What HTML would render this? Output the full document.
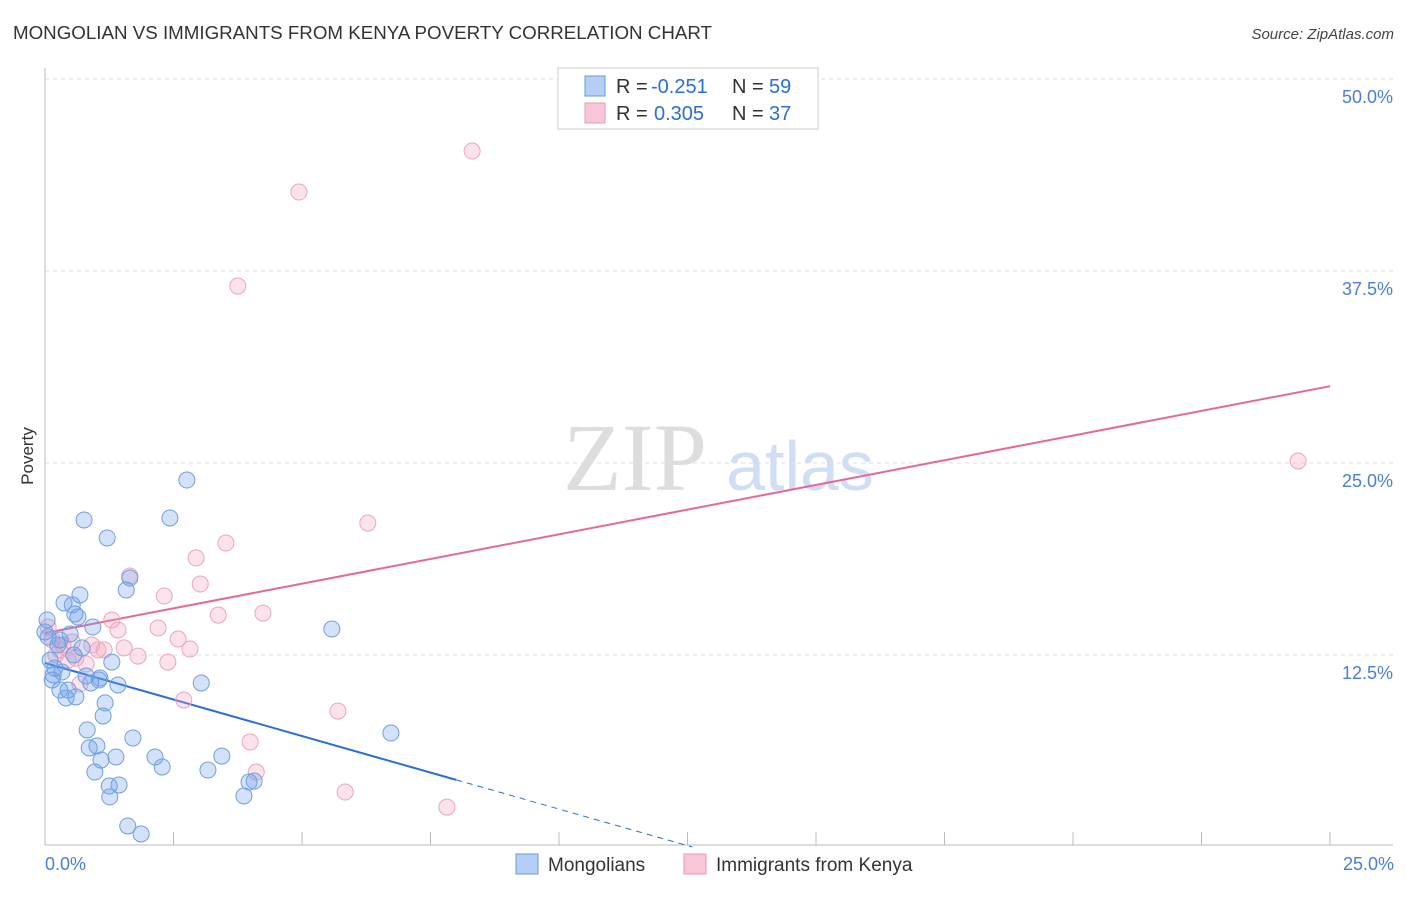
<!DOCTYPE html>
<html><head><meta charset="utf-8"><style>
body{margin:0;background:#fff;font-family:"Liberation Sans",sans-serif;}
</style></head><body>
<svg id="chart" width="1406" height="892" xmlns="http://www.w3.org/2000/svg" style="font-family:'Liberation Sans',sans-serif">
<text x="13" y="39" font-size="18" fill="#333" textLength="699" lengthAdjust="spacingAndGlyphs">MONGOLIAN VS IMMIGRANTS FROM KENYA POVERTY CORRELATION CHART</text>
<text x="1394" y="39" font-size="15" fill="#444" text-anchor="end" font-style="italic">Source: ZipAtlas.com</text>
<g>
<text x="635" y="490" font-size="96" fill="#ddd" text-anchor="middle" font-family="Liberation Serif,serif">ZIP</text>
<text x="800" y="490" font-size="70" fill="#d0def5" text-anchor="middle">atlas</text>
</g>
<g id="grid"></g>
<g id="axes"></g>
<g id="lines"></g>
<g id="pts"></g>
<text transform="translate(33,456) rotate(-90)" font-size="17" fill="#333" text-anchor="middle">Poverty</text>
<text x="45" y="870" font-size="18" fill="#4a7fd4">0.0%</text>
<text x="1394" y="870" font-size="18" fill="#4a7fd4" text-anchor="end">25.0%</text>
<g font-size="20">
<rect x="558" y="68" width="260" height="61" fill="#fff" stroke="#ccc"/>
<rect x="585" y="76" width="20" height="20" fill="#b5cef5" stroke="#6699dd"/>
<rect x="585" y="103" width="20" height="20" fill="#f8c6d6" stroke="#e899b5"/>
<text x="616" y="93" fill="#333">R =</text>
<text x="651" y="93" fill="#2a6fd6">-0.251</text>
<text x="732" y="93" fill="#333">N =</text>
<text x="769" y="93" fill="#2a6fd6">59</text>
<text x="616" y="120" fill="#333">R =</text>
<text x="654" y="120" fill="#2a6fd6">0.305</text>
<text x="732" y="120" fill="#333">N =</text>
<text x="769" y="120" fill="#2a6fd6">37</text>
</g>
<g>
<rect x="516" y="854" width="22" height="20" fill="#b5cef5" stroke="#6699dd"/>
<text x="548" y="871" font-size="19" fill="#333">Mongolians</text>
<rect x="684" y="854" width="22" height="20" fill="#f8c6d6" stroke="#e899b5"/>
<text x="716" y="871" font-size="19" fill="#333">Immigrants from Kenya</text>
</g>
</svg>
<script>
const yTicks=[12.5,25,37.5,50];
const yTickLabels=["12.5%","25.0%","37.5%","50.0%"];
const xTicks=[0,2.5,5,7.5,10,12.5,15,17.5,20,22.5,25];
const blueX=[0.04,0.06,0.10,0.16,0.19,0.25,0.29,0.33,0.37,0.41,0.45,0.49,0.53,0.56,0.60,0.64,0.68,0.72,0.76,0.80,0.82,0.86,0.89,0.93,0.97,1.01,1.05,1.09,1.13,1.17,1.21,1.25,1.26,1.30,1.38,1.42,1.44,1.58,1.61,1.65,1.71,1.87,2.14,2.28,2.43,2.76,3.04,3.17,3.44,3.87,3.97,4.07,5.58,6.73,1.07,0.29,0.14,0.0,0.58];
const blueY=[14.78,13.67,12.17,11.20,11.65,13.15,10.22,11.39,15.89,9.70,10.22,13.87,15.76,12.50,9.77,14.97,16.41,12.96,21.29,11.13,7.62,6.45,10.68,14.32,4.88,6.58,10.87,5.66,8.53,9.38,20.12,3.97,3.26,12.04,5.86,10.55,4.04,16.73,1.37,17.51,7.10,0.85,5.86,5.21,21.42,23.89,10.68,5.01,5.92,3.32,4.23,4.30,14.19,7.42,11.00,13.48,10.87,14.00,15.17];
const pinkX=[0.06,0.14,0.21,0.29,0.35,0.45,0.53,0.60,0.68,0.80,0.91,1.03,1.15,1.30,1.42,1.54,1.65,1.81,2.20,2.32,2.39,2.59,2.70,2.82,2.94,3.02,3.37,3.52,3.75,3.99,4.11,4.24,4.94,5.70,5.84,6.28,7.82,8.31,24.38];
const pinkY=[14.32,13.48,12.50,12.83,13.15,12.17,13.35,12.30,10.61,11.91,13.15,12.83,12.83,14.78,14.13,12.96,17.64,12.43,14.26,16.34,12.04,13.54,9.57,12.89,18.82,17.12,15.10,19.79,36.52,6.84,4.88,15.23,42.64,8.85,3.58,21.09,2.60,45.31,25.13];
const blueTrend=[11.98,-11.8];
const blueSolidEnd=8.0;
const pinkTrend=[13.93,30.0];
const NS="http://www.w3.org/2000/svg";
const X=v=>45+v*51.4, Y=v=>847-v*15.36;
function mk(tag,attrs,parent){const e=document.createElementNS(NS,tag);for(const k in attrs)e.setAttribute(k,attrs[k]);document.getElementById(parent).appendChild(e);return e;}
yTicks.forEach((t,i)=>{
 const l=mk('line',{x1:45,x2:1393,y1:Y(t),y2:Y(t),stroke:'#ddd','stroke-dasharray':'4,4'},'grid');
 
 
 const tx=mk('text',{x:1393,y:Y(t)+24,'font-size':18,fill:'#4a7fd4','text-anchor':'end'},'grid');
 tx.textContent=yTickLabels[i];
 
 
});
let a=mk('line',{x1:45,x2:45,y1:68,y2:845,stroke:'#bbb'},'axes');


a=mk('line',{x1:45,x2:1393,y1:845,y2:845,stroke:'#bbb'},'axes');


xTicks.forEach(t=>{const l=mk('line',{x1:X(t),x2:X(t),y1:832,y2:845,stroke:'#bbb'},'axes');
 
 });
function ty(tr,x){return tr[0]+(tr[1]-tr[0])*x/25;}
const xz=blueTrend[0]/(blueTrend[0]-blueTrend[1])*25;
let l=mk('line',{x1:X(0),y1:Y(ty(blueTrend,0)),x2:X(blueSolidEnd),y2:Y(ty(blueTrend,blueSolidEnd)),stroke:'#2a6fd6','stroke-width':2},'lines');


l=mk('line',{x1:X(blueSolidEnd),y1:Y(ty(blueTrend,blueSolidEnd)),x2:X(xz),y2:Y(0),stroke:'#2a6fd6','stroke-width':1,'stroke-dasharray':'6,5'},'lines');


l=mk('line',{x1:X(0),y1:Y(pinkTrend[0]),x2:X(25),y2:Y(pinkTrend[1]),stroke:'#e8679a','stroke-width':2},'lines');


pinkX.forEach((x,i)=>{const c=mk('circle',{cx:X(x),cy:Y(pinkY[i]),r:8,fill:'rgba(242,160,190,0.3)',stroke:'#eaa6bf','stroke-width':1},'pts');
 
 });
blueX.forEach((x,i)=>{const c=mk('circle',{cx:X(x),cy:Y(blueY[i]),r:8,fill:'rgba(110,160,235,0.3)',stroke:'#6f9fe0','stroke-width':1},'pts');
 
 });
</script>
</body></html>
